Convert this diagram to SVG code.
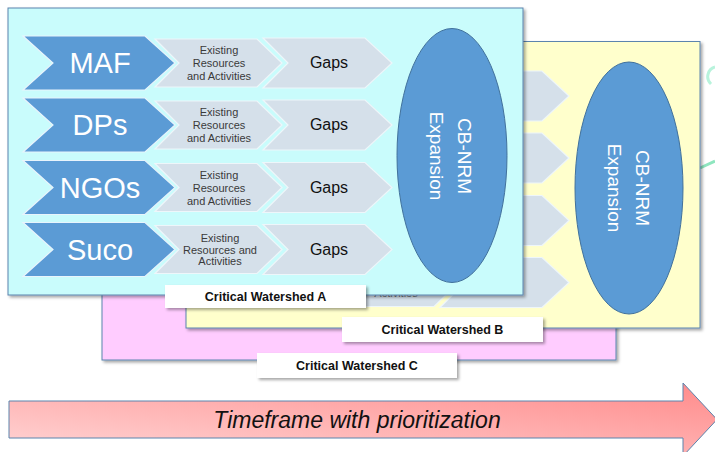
<svg xmlns="http://www.w3.org/2000/svg" xmlns:xlink="http://www.w3.org/1999/xlink" width="715" height="452" viewBox="0 0 715 452">
<style>
.panel{stroke:#5b84ad;stroke-width:1}
.pa{fill:#c9fcfc}
.pb{fill:#ffffcc}
.pc{fill:#ffccff}
.blue{fill:#5b9bd5;stroke:#e8f4fc;stroke-width:1.2}
.light{fill:#d5e0ea;stroke:#eef6fa;stroke-width:1.2}
.org{font-family:"Liberation Sans",Arial,sans-serif;font-size:29px;fill:#ffffff;text-anchor:middle}
.ex{font-family:"Liberation Sans",Arial,sans-serif;font-size:11px;fill:#3a3a3a;text-anchor:middle}
.gap{font-family:"Liberation Sans",Arial,sans-serif;font-size:16px;fill:#111111;text-anchor:middle}
.ell{fill:#5b9bd5;stroke:#41719c;stroke-width:1}
.et{font-family:"Liberation Sans",Arial,sans-serif;font-size:19px;fill:#ffffff;text-anchor:middle}
.lab{fill:#ffffff}
.lt{font-family:"Liberation Sans",Arial,sans-serif;font-size:12.5px;font-weight:bold;fill:#111111;text-anchor:middle}
.tt{font-family:"Liberation Sans",Arial,sans-serif;font-size:23px;font-style:italic;fill:#111111;text-anchor:middle}
</style>
<defs>
<filter id="sh" x="-5%" y="-10%" width="115%" height="130%">
<feDropShadow dx="2" dy="2" stdDeviation="1.5" flood-color="#000000" flood-opacity="0.35"/>
</filter>
<linearGradient id="tg" x1="0" y1="1" x2="1" y2="0">
<stop offset="0" stop-color="#ffd6d6"/>
<stop offset="1" stop-color="#ff8a8a"/>
</linearGradient>
<polygon id="chev-blue" class="blue" points="23,-27 145,-27 175,0 145,27 23,27 53,0"/>
<polygon id="chev-exist" class="light" points="155,-24 257,-24 282,0 257,24 155,24 179,0"/>
<polygon id="chev-gap" class="light" points="263,-25 365,-25 392,0 365,25 263,25 288,0"/>
</defs>

<g id="connectors"></g>

<!-- decorative fragments at right edge -->
<g id="edge-fragments">
<path d="M 715 67 A 10 10 0 0 0 711 84" fill="none" stroke="#b8f3dc" stroke-width="3"/>
<line x1="700" y1="168" x2="715" y2="161" stroke="#8fe6bf" stroke-width="3"/>
</g>

<!-- Panel C -->
<g id="panel-c">
<rect class="panel pc" x="102" y="73" width="514" height="287" filter="url(#sh)"/>
</g>
<g id="label-c">
<rect class="lab" x="257" y="353" width="200" height="25" filter="url(#sh)"/>
<text class="lt" x="357" y="370">Critical Watershed C</text>
</g>

<!-- Panel B -->
<g id="panel-b">
<rect class="panel pb" x="186" y="41.5" width="514" height="286.5" filter="url(#sh)"/>
<g id="panel-b-rows" transform="translate(177,33)">
<g transform="translate(0,63)"><use xlink:href="#chev-gap"/><use xlink:href="#chev-exist"/></g>
<g transform="translate(0,125)"><use xlink:href="#chev-gap"/><use xlink:href="#chev-exist"/></g>
<g transform="translate(0,187.5)"><use xlink:href="#chev-gap"/><use xlink:href="#chev-exist"/></g>
<g transform="translate(0,249.5)"><use xlink:href="#chev-gap"/><use xlink:href="#chev-exist"/>
<text class="ex" x="219" y="14.5" fill-opacity="0.7">Activities</text></g>
</g>
<g id="ellipse-b">
<ellipse class="ell" cx="629" cy="188" rx="54" ry="126"/>
<text class="et" transform="translate(629,188) rotate(90)"><tspan x="0" y="-7">CB-NRM</tspan><tspan x="0" y="21">Expansion</tspan></text>
</g>
</g>
<g id="label-b">
<rect class="lab" x="342" y="317" width="201" height="25" filter="url(#sh)"/>
<text class="lt" x="442.5" y="334">Critical Watershed B</text>
</g>

<!-- Panel A -->
<g id="panel-a">
<rect class="panel pa" x="8" y="8" width="515" height="287" filter="url(#sh)"/>
</g>
<g id="row-maf" transform="translate(0,63)">
<use xlink:href="#chev-gap"/><use xlink:href="#chev-exist"/><use xlink:href="#chev-blue"/>
<text class="org" x="100" y="10">MAF</text>
<text class="ex" x="219"><tspan x="219" y="-9">Existing</tspan><tspan x="219" y="4">Resources</tspan><tspan x="219" y="17">and Activities</tspan></text>
<text class="gap" x="329" y="5">Gaps</text>
</g>
<g id="row-dps" transform="translate(0,125)">
<use xlink:href="#chev-gap"/><use xlink:href="#chev-exist"/><use xlink:href="#chev-blue"/>
<text class="org" x="100" y="10">DPs</text>
<text class="ex" x="219"><tspan x="219" y="-9">Existing</tspan><tspan x="219" y="4">Resources</tspan><tspan x="219" y="17">and Activities</tspan></text>
<text class="gap" x="329" y="5">Gaps</text>
</g>
<g id="row-ngos" transform="translate(0,187.5)">
<use xlink:href="#chev-gap"/><use xlink:href="#chev-exist"/><use xlink:href="#chev-blue"/>
<text class="org" x="100" y="10">NGOs</text>
<text class="ex" x="219"><tspan x="219" y="-9">Existing</tspan><tspan x="219" y="4">Resources</tspan><tspan x="219" y="17">and Activities</tspan></text>
<text class="gap" x="329" y="5">Gaps</text>
</g>
<g id="row-suco" transform="translate(0,249.5)">
<use xlink:href="#chev-gap"/><use xlink:href="#chev-exist"/><use xlink:href="#chev-blue"/>
<text class="org" x="100" y="10">Suco</text>
<text class="ex" x="220"><tspan x="220" y="-8">Existing</tspan><tspan x="220" y="4">Resources and</tspan><tspan x="220" y="15">Activities</tspan></text>
<text class="gap" x="329" y="5">Gaps</text>
</g>
<g id="ellipse-a">
<ellipse class="ell" cx="452" cy="155.5" rx="55" ry="127"/>
<text class="et" transform="translate(452,156) rotate(90)"><tspan x="0" y="-6">CB-NRM</tspan><tspan x="0" y="22">Expansion</tspan></text>
</g>
<g id="label-a">
<rect class="lab" x="165" y="285" width="201" height="23" filter="url(#sh)"/>
<text class="lt" x="265.5" y="301">Critical Watershed A</text>
</g>

<!-- Timeline arrow -->
<g id="timeline">
<polygon points="9,401 683,401 683,383 717,419.5 683,456 683,438 9,438" fill="url(#tg)" stroke="#5b84ad" stroke-width="1"/>
<text class="tt" x="357" y="428">Timeframe with prioritization</text>
</g>
</svg>
